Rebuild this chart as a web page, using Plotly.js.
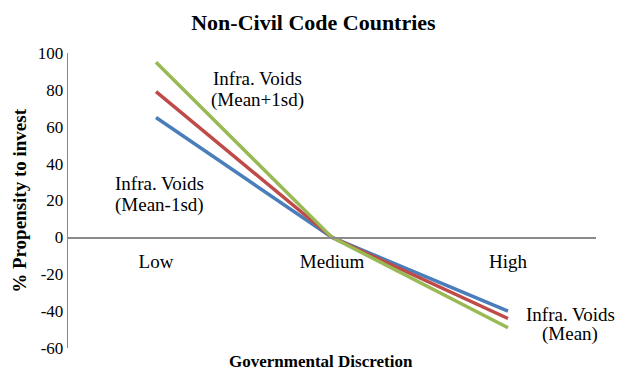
<!DOCTYPE html>
<html><head><meta charset="utf-8">
<script src="https://cdn.plot.ly/plotly-3.0.1.min.js"></script>
<style>body{margin:0;background:#fff}#c{width:617px;height:371px}</style>
</head><body><div id="c"></div>
<script>
const categories = ["Low", "Medium", "High"];
const meanMinus1sd = [65, 0, -40];
const mean = [79, 0, -44];
const meanPlus1sd = [95, 0, -49];
const seriesNames = ["Infra. Voids (Mean-1sd)", "Infra. Voids (Mean)", "Infra. Voids (Mean+1sd)"];
const yTicks = [-60, -40, -20, 0, 20, 40, 60, 80, 100];
const yTickLabels = ["-60", "-40", "-20", "0", "20", "40", "60", "80", "100"];

const colors = ["#4A7EBB", "#BE4B48", "#98B954"];
const F = "'Liberation Serif', 'Times New Roman', serif";
const data = [meanMinus1sd, mean, meanPlus1sd].map((v, i) => ({
  type: "scatter", mode: "lines", x: categories, y: v, name: seriesNames[i],
  line: {color: colors[i], width: 3.5}, showlegend: false, hoverinfo: "skip"
}));
function lbl(text, x, y) {
  return {text: text, xref: "paper", yref: "paper", x: x, y: y, xanchor: "center", yanchor: "middle", showarrow: false, font: {family: F, size: 19}};
}
const layout = {
  width: 617, height: 371,
  margin: {l: 68, r: 21, t: 53, b: 23},
  paper_bgcolor: "#fff", plot_bgcolor: "#fff",
  font: {family: F, size: 19, color: "#000"},
  title: {text: "<b>Non-Civil Code Countries</b>", x: 0.508, xanchor: "center", y: 0.94, yanchor: "middle", font: {family: F, size: 22}},
  xaxis: {type: "category", range: [-0.5, 2.5], anchor: "free", position: (0 - (-60)) / 160,
    showline: true, linecolor: "#8a8a8a", linewidth: 1.3, showgrid: false, zeroline: false,
    ticks: "", ticklabelstandoff: 7, tickfont: {family: F, size: 19}},
  yaxis: {range: [-60, 100], tickvals: yTicks, ticktext: yTickLabels, showline: true, linecolor: "#8a8a8a", linewidth: 1.3,
    showgrid: false, zeroline: false, ticks: "", ticklabelstandoff: 0, tickfont: {family: F, size: 17}},
  annotations: [
    {text: "<b>% Propensity to invest</b>", textangle: -90, xref: "paper", yref: "paper", x: -0.091, y: 0.502, xanchor: "center", yanchor: "middle", showarrow: false, font: {family: F, size: 19}},
    {text: "<b>Governmental Discretion</b>", xref: "paper", yref: "paper", x: 0.479, y: -0.047, xanchor: "center", yanchor: "middle", showarrow: false, font: {family: F, size: 17}},
    lbl("Infra. Voids", 0.358, 0.912), lbl("(Mean+1sd)", 0.358, 0.841),
    lbl("Infra. Voids", 0.174, 0.556), lbl("(Mean-1sd)", 0.174, 0.485),
    lbl("Infra. Voids", 0.951, 0.115), lbl("(Mean)", 0.951, 0.047)
  ]
};
Plotly.newPlot("c", data, layout, {displayModeBar: false, staticPlot: true});
</script></body></html>
